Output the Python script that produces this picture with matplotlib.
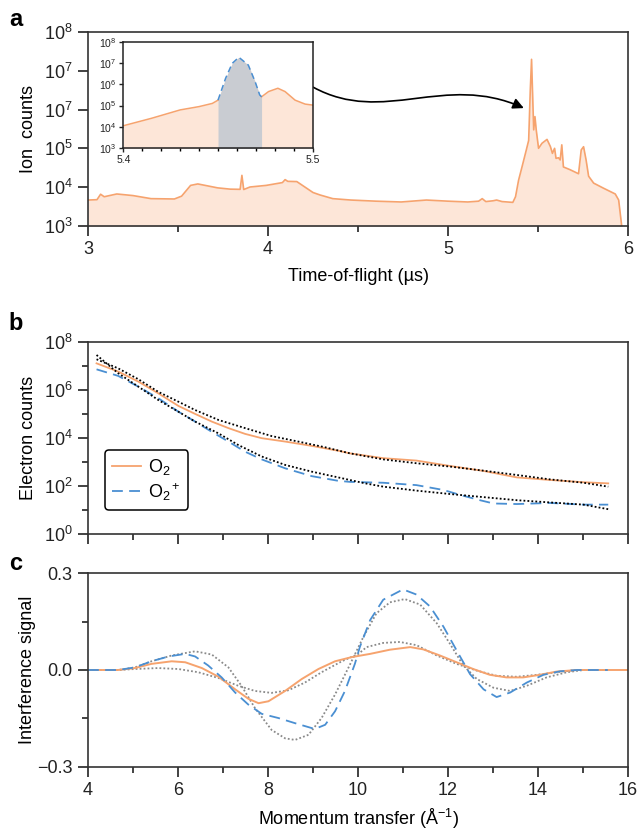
import numpy as np
import matplotlib
matplotlib.use('Agg')
from matplotlib import pyplot as plt
from matplotlib.patches import FancyArrowPatch
from matplotlib.path import Path
from matplotlib.ticker import FixedLocator, NullFormatter

plt.rcParams['font.family'] = ['Liberation Sans', 'DejaVu Sans']
plt.rcParams['mathtext.fontset'] = 'custom'
plt.rcParams['mathtext.rm'] = 'Liberation Sans'
plt.rcParams['mathtext.it'] = 'Liberation Sans:italic'
plt.rcParams['mathtext.bf'] = 'Liberation Sans:bold'
plt.rcParams['axes.linewidth'] = 1.2

orange = '#f6a36e'
orange_fill = '#fde6d8'
blue = '#4a8fd2'
grey_fill = '#c9ccd2'

# panel a: time-of-flight spectrum
tof = [3.00, 3.05, 3.07, 3.09, 3.16, 3.25, 3.35, 3.48, 3.52, 3.57, 3.61, 3.72, 3.79,
       3.845, 3.855, 3.865, 3.90, 3.99, 4.08, 4.095, 4.11, 4.16, 4.25, 4.29, 4.36,
       4.46, 4.60, 4.74, 4.88, 5.00, 5.11, 5.17, 5.19, 5.21, 5.25, 5.27, 5.30, 5.36,
       5.375, 5.392, 5.411, 5.435, 5.448, 5.457, 5.464, 5.472, 5.476, 5.483, 5.49,
       5.503, 5.522, 5.55, 5.569, 5.58, 5.592, 5.60, 5.614, 5.623, 5.632, 5.641,
       5.678, 5.725, 5.74, 5.753, 5.767, 5.781, 5.809, 5.864, 5.929, 5.948, 5.961,
       5.972]
ion_counts = [4.6e3, 4.7e3, 6.5e3, 5.6e3, 6.6e3, 6.0e3, 5.0e3, 4.9e3, 5.8e3, 1.1e4,
              1.2e4, 9.5e3, 8.8e3, 8.7e3, 2.0e4, 8.6e3, 1.0e4, 1.1e4, 1.3e4, 1.55e4,
              1.4e4, 1.38e4, 7.2e3, 6.2e3, 5.0e3, 4.6e3, 4.3e3, 4.1e3, 4.6e3, 4.3e3,
              4.1e3, 4.3e3, 5.0e3, 4.2e3, 4.4e3, 4.6e3, 4.2e3, 4.0e3,
              5.6e3, 1.5e4, 3.3e4, 9.1e4, 1.6e5, 3.2e6, 2.0e7, 1.2e6, 3.0e5, 6.6e5,
              3.0e5, 1.0e5, 1.35e5, 1.7e5, 1.1e5, 7.4e4, 1.0e5, 5.5e4, 5.7e4, 5.0e4,
              1.23e5, 3.3e4, 2.8e4, 2.2e4, 9.1e4, 1.1e5, 5.0e4, 1.9e4, 1.26e4, 9.3e3,
              6.6e3, 4.6e3, 1.4e3, 5e2]

# inset: zoom on the O2+ peak
inset_tof = [5.400, 5.415, 5.430, 5.440, 5.447, 5.450, 5.454, 5.4575, 5.461, 5.466,
             5.4696, 5.472, 5.473, 5.4767, 5.4816, 5.4854, 5.4907, 5.496, 5.500]
inset_counts = [1.1e4, 2.5e4, 6.2e4, 8.9e4, 1.26e5, 1.8e5, 1.95e6, 1.0e7, 1.95e7,
                8.3e6, 1.35e6, 3.2e5, 2.6e5, 4.6e5, 6.6e5, 4.6e5, 1.8e5, 1.17e5, 1.05e5]
gate_start = 5.450
gate_end = 5.473

# panel b: electron counts
q_o2_b = [4.19, 4.67, 5.12, 5.56, 6.01, 6.38, 6.75, 7.12, 7.49, 7.86, 8.38, 8.97,
          9.56, 9.82, 10.56, 11.3, 12.04, 12.78, 13.53, 14.27, 15.01, 15.56]
o2_counts = [1.26e7, 5.75e6, 2.19e6, 7.2e5, 2.14e5, 1.0e5, 4.8e4, 2.57e4, 1.48e4,
             9.8e3, 7.1e3, 4.7e3, 2.95e3, 2.3e3, 1.45e3, 1.15e3, 6.9e2, 4.3e2,
             2.3e2, 1.8e2, 1.45e2, 1.3e2]
q_o2p_b = [4.19, 4.67, 5.12, 5.56, 6.01, 6.38, 6.75, 7.12, 7.49, 7.86, 8.38, 8.97,
           9.56, 9.82, 10.56, 11.3, 11.9, 12.27, 12.71, 13.01, 13.53, 14.27, 15.01,
           15.56]
o2p_counts = [7.1e6, 3.8e6, 1.35e6, 4.5e5, 1.23e5, 4.8e4, 1.8e4, 7.1e3, 2.7e3,
              1.29e3, 5.5e2, 2.6e2, 1.66e2, 1.5e2, 1.38e2, 1.1e2, 69, 43, 26, 19,
              18, 20, 17, 17]
q_o2_fit = [4.19, 4.67, 5.12, 5.56, 6.01, 6.38, 6.9, 7.49, 8.08, 8.67, 9.27, 9.82,
            10.56, 11.3, 12.04, 12.78, 13.53, 14.27, 15.01, 15.56]
o2_fit = [1.86e7, 7.8e6, 2.75e6, 8.3e5, 3.2e5, 1.45e5, 5.6e4, 2.57e4, 1.2e4, 7.1e3,
          4.1e3, 2.3e3, 1.29e3, 8.9e2, 6.5e2, 4.4e2, 2.9e2, 1.9e2, 1.38e2, 95]
q_o2p_fit = [4.19, 4.67, 5.12, 5.56, 6.01, 6.38, 6.9, 7.34, 7.86, 8.38, 8.97, 9.56,
             10.16, 10.56, 11.3, 12.04, 12.78, 13.53, 14.27, 15.01, 15.56]
o2p_fit = [2.8e7, 4.9e6, 1.35e6, 3.8e5, 1.23e5, 4.8e4, 1.55e4, 5.1e3, 1.7e3, 7.6e2,
           4.0e2, 2.3e2, 1.3e2, 95, 65, 47, 35, 26, 21, 17, 11]

# panel c: interference signal
q_o2_c = [4.0, 4.67, 5.04, 5.41, 5.86, 6.16, 6.53, 6.90, 7.27, 7.56, 7.79, 8.01,
          8.38, 8.75, 9.12, 9.49, 9.86, 10.27, 10.71, 11.16, 11.45, 11.82, 12.19,
          12.56, 12.93, 13.3, 13.67, 14.04, 14.41, 14.86, 16.0]
o2_sig = [0.0, 0.0, 0.006, 0.019, 0.027, 0.024, 0.006, -0.021, -0.060, -0.089,
          -0.103, -0.097, -0.065, -0.028, 0.003, 0.027, 0.040, 0.050, 0.063, 0.071,
          0.064, 0.045, 0.024, 0.003, -0.015, -0.023, -0.023, -0.015, -0.005, 0.0,
          0.0]
q_o2p_c = [4.0, 4.67, 5.04, 5.41, 5.79, 6.16, 6.38, 6.67, 6.97, 7.27, 7.56, 7.86,
           8.23, 8.6, 9.04, 9.27, 9.49, 9.71, 9.93, 10.04, 10.27, 10.56, 11.0, 11.3,
           11.6, 11.9, 12.19, 12.49, 12.79, 13.08, 13.38, 13.75, 14.12, 14.49, 14.86,
           15.55]
o2p_sig = [0.0, 0.0, 0.008, 0.027, 0.042, 0.050, 0.042, 0.014, -0.023, -0.070,
           -0.107, -0.136, -0.149, -0.165, -0.183, -0.170, -0.128, -0.065, 0.019,
           0.071, 0.155, 0.218, 0.250, 0.234, 0.197, 0.134, 0.061, -0.013, -0.060,
           -0.084, -0.070, -0.039, -0.015, -0.004, 0.0, 0.0]
q_o2p_sim = [4.0, 4.67, 5.04, 5.41, 5.86, 6.38, 6.75, 7.12, 7.41, 7.71, 8.08, 8.38,
             8.6, 8.9, 9.19, 9.49, 9.79, 10.12, 10.41, 10.71, 11.04, 11.38, 11.75,
             12.04, 12.34, 12.64, 13.01, 13.38, 13.75, 14.19, 14.64, 15.01, 15.55]
o2p_sim = [0.0, 0.0, 0.008, 0.027, 0.045, 0.058, 0.048, 0.008, -0.049, -0.118,
           -0.186, -0.212, -0.217, -0.201, -0.149, -0.076, 0.008, 0.103, 0.176,
           0.210, 0.220, 0.203, 0.145, 0.082, 0.014, -0.028, -0.055, -0.065, -0.049,
           -0.023, -0.007, 0.0, 0.0]
q_o2_sim = [4.0, 4.67, 5.04, 5.56, 6.01, 6.45, 6.9, 7.34, 7.71, 8.08, 8.45, 8.82,
            9.19, 9.64, 10.01, 10.19, 10.56, 10.93, 11.3, 11.75, 12.19, 12.64, 13.08,
            13.53, 13.97, 14.41, 14.86, 15.55]
o2_sim = [0.0, 0.0, 0.003, 0.006, 0.003, -0.007, -0.025, -0.049, -0.065, -0.071,
          -0.063, -0.039, -0.007, 0.027, 0.050, 0.071, 0.084, 0.087, 0.077, 0.045,
          0.019, -0.002, -0.018, -0.021, -0.015, -0.007, 0.0, 0.0]

fs = 13

fig = plt.figure(figsize=(6.4, 8.34), dpi=100)
ax_a = fig.add_axes([0.1375, 0.7294, 0.8438, 0.2319])
ax_b = fig.add_axes([0.1375, 0.3594, 0.8438, 0.2309])
ax_c = fig.add_axes([0.1375, 0.0807, 0.8438, 0.2319])

# ---- a ----
ax_a.fill_between(tof, ion_counts, 1, color=orange_fill, lw=0)
ax_a.plot(tof, ion_counts, color=orange, lw=1.2)
ax_a.set_yscale('log')
ax_a.set_ylim(1e3, 1e8)
ax_a.set_xlim(3, 6)
ax_a.yaxis.set_major_locator(FixedLocator([1e3, 1e4, 1e5, 1e6, 1e7, 1e8]))
# labels as printed in the original figure
ax_a.set_yticklabels(['$10^3$', '$10^4$', '$10^5$', '$10^7$', '$10^7$', '$10^8$'])
ax_a.yaxis.set_minor_locator(FixedLocator([]))
ax_a.set_xticks([3, 4, 5, 6])
ax_a.set_xticks([3.5, 4.5, 5.5], minor=True)
ax_a.set_ylabel('Ion  counts', fontsize=fs, labelpad=5)
ax_a.set_xlabel('Time-of-flight (\u00b5s)', fontsize=fs, labelpad=7)

ins = fig.add_axes([0.1927, 0.8229, 0.2959, 0.1264])
xi = np.array(inset_tof)
yi = np.array(inset_counts)
ins.fill_between(xi, yi, 1, color=orange_fill, lw=0)
gate = (xi >= gate_start) & (xi <= gate_end)
ins.fill_between(xi[gate], yi[gate], 1, color=grey_fill, lw=0)
ins.plot(xi[xi <= gate_start], yi[xi <= gate_start], color=orange, lw=1.1)
ins.plot(xi[xi >= gate_end], yi[xi >= gate_end], color=orange, lw=1.1)
ins.plot(xi[gate], yi[gate], color=blue, lw=1.1, ls=(0, (4, 2.5)))
ins.set_yscale('log')
ins.set_ylim(1e3, 1e8)
ins.set_xlim(5.4, 5.5)
ins.yaxis.set_major_locator(FixedLocator([1e3, 1e4, 1e5, 1e6, 1e7, 1e8]))
ins.yaxis.set_minor_locator(FixedLocator([]))
ins.set_yticklabels(['$10^3$', '$10^4$', '$10^5$', '$10^6$', '$10^7$', '$10^8$'])
ins.set_xticks([5.4, 5.5])
ins.set_xticklabels(['5.4', '5.5'])
ins.set_xticks(np.arange(5.41, 5.495, 0.01), minor=True)
ins.tick_params(labelsize=7.5, length=3, width=1, pad=2, colors='#222222')
ins.tick_params(which='minor', length=2, width=1)
for s in ins.spines.values():
    s.set_linewidth(1.1)
    s.set_color('#222222')

verts = [(0.417, 0.716), (0.548, 0.517), (0.659, 0.793), (0.807, 0.608)]
arrow = FancyArrowPatch(path=Path(verts, [Path.MOVETO, Path.CURVE4, Path.CURVE4, Path.CURVE4]),
                        arrowstyle='-|>', mutation_scale=16, lw=1.2, color='black',
                        transform=ax_a.transAxes, clip_on=False)
ax_a.add_patch(arrow)

# ---- b ----
ax_b.plot(q_o2_b, o2_counts, color=orange, lw=1.3, label='O$_2$')
ax_b.plot(q_o2p_b, o2p_counts, color=blue, lw=1.3, ls=(0, (6, 3.5)), label='O$_2{}^+$')
ax_b.plot(q_o2_fit, o2_fit, color='black', lw=1.3, ls=(0, (1, 1.2)))
ax_b.plot(q_o2p_fit, o2p_fit, color='black', lw=1.3, ls=(0, (1, 1.2)))
ax_b.set_yscale('log')
ax_b.set_ylim(1, 1e8)
ax_b.set_xlim(4, 16)
ax_b.yaxis.set_major_locator(FixedLocator([1, 1e2, 1e4, 1e6, 1e8]))
ax_b.yaxis.set_minor_locator(FixedLocator([10, 1e3, 1e5, 1e7]))
ax_b.yaxis.set_minor_formatter(NullFormatter())
ax_b.set_yticklabels(['$10^0$', '$10^2$', '$10^4$', '$10^6$', '$10^8$'])
ax_b.set_xticks(range(4, 17, 2))
ax_b.set_xticks(range(5, 16, 2), minor=True)
ax_b.set_xticklabels([])
ax_b.set_ylabel('Electron counts', fontsize=fs, labelpad=5)
leg = ax_b.legend(loc='lower left', bbox_to_anchor=(0.015, 0.08), fontsize=fs,
                  frameon=True, fancybox=True, edgecolor='black', handlelength=1.6,
                  borderpad=0.4, labelspacing=0.2, handletextpad=0.4)
leg.get_frame().set_linewidth(1.1)
leg.get_frame().set_alpha(1)

# ---- c ----
ax_c.plot(q_o2p_sim, o2p_sim, color='#8a8a8a', lw=1.3, ls=(0, (1, 1.2)))
ax_c.plot(q_o2_sim, o2_sim, color='#8a8a8a', lw=1.3, ls=(0, (1, 1.2)))
ax_c.plot(q_o2_c, o2_sig, color=orange, lw=1.4)
ax_c.plot(q_o2p_c, o2p_sig, color=blue, lw=1.3, ls=(0, (6, 3.5)))
ax_c.set_xlim(4, 16)
ax_c.set_ylim(-0.3, 0.3)
ax_c.set_yticks([-0.3, 0.0, 0.3])
ax_c.set_yticks([-0.15, 0.15], minor=True)
ax_c.set_yticklabels(['\u22120.3', '0.0', '0.3'])
ax_c.set_xticks(range(4, 17, 2))
ax_c.set_xticks(range(5, 16, 2), minor=True)
ax_c.set_ylabel('Interference signal', fontsize=fs, labelpad=1)
ax_c.set_xlabel('Momentum transfer (\u00c5$^{-1}$)', fontsize=fs, labelpad=6)

for ax in (ax_a, ax_b, ax_c):
    ax.tick_params(which='major', direction='out', length=7.5, width=1.2, labelsize=fs,
                   pad=3.5, colors='#222222')
    ax.tick_params(which='minor', direction='out', length=4, width=1.2, colors='#222222')
    for s in ax.spines.values():
        s.set_color('#333333')

fig.text(0.014, 0.963, 'a', fontsize=17, fontweight='bold', va='bottom')
fig.text(0.014, 0.598, 'b', fontsize=17, fontweight='bold', va='bottom')
fig.text(0.014, 0.310, 'c', fontsize=17, fontweight='bold', va='bottom')

fig.savefig('out.png', dpi=100)
